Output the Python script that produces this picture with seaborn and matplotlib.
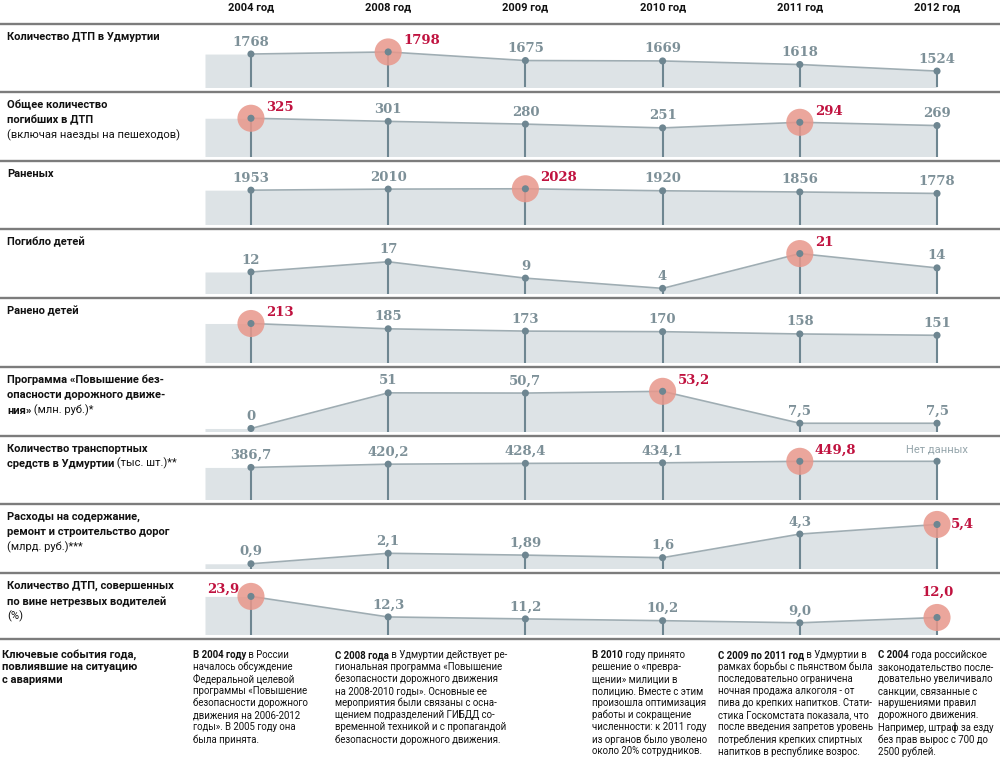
import matplotlib
matplotlib.use('Agg')
import matplotlib.pyplot as plt
import seaborn as sns
import numpy as np
import pandas as pd
from matplotlib.transforms import blended_transform_factory
from matplotlib.lines import Line2D

sns.set_style('white')
SANS = ['Roboto', 'DejaVu Sans']
SERIF = ['DejaVu Serif']
plt.rcParams['font.family'] = SANS

W, H = 1000, 771

# --- data -------------------------------------------------------------
years = ['2004 год', '2008 год', '2009 год', '2010 год', '2011 год', '2012 год']

dtp_total = [1768, 1798, 1675, 1669, 1618, 1524]
killed = [325, 301, 280, 251, 294, 269]
injured = [1953, 2010, 2028, 1920, 1856, 1778]
children_killed = [12, 17, 9, 4, 21, 14]
children_injured = [213, 185, 173, 170, 158, 151]
program_budget = [0, 51, 50.7, 53.2, 7.5, 7.5]
vehicles = [386.7, 420.2, 428.4, 434.1, 449.8, np.nan]
road_spending = [0.9, 2.1, 1.89, 1.6, 4.3, 5.4]
drunk_share = [23.9, 12.3, 11.2, 10.2, 9.0, 12.0]

row_titles = [
    [[('Количество ДТП в Удмуртии', True)]],
    [[('Общее количество', True)], [('погибших в ДТП', True)],
     [('(включая наезды на пешеходов)', False)]],
    [[('Раненых', True)]],
    [[('Погибло детей', True)]],
    [[('Ранено детей', True)]],
    [[('Программа «Повышение без-', True)], [('опасности дорожного движе-', True)],
     [('ния»', True), (' (млн. руб.)*', False)]],
    [[('Количество транспортных', True)],
     [('средств в Удмуртии', True), (' (тыс. шт.)**', False)]],
    [[('Расходы на содержание,', True)], [('ремонт и строительство дорог', True)],
     [('(млрд. руб.)***', False)]],
    [[('Количество ДТП, совершенных', True)], [('по вине нетрезвых водителей', True)],
     [('(%)', False)]],
]

events_title = ['Ключевые события года,', 'повлиявшие на ситуацию', 'с авариями']

events = [
    ('В 2004 году', ' в России', [
        'началось обсуждение', 'Федеральной целевой', 'программы «Повышение',
        'безопасности дорожного', 'движения на 2006-2012', 'годы». В 2005 году она',
        'была принята.']),
    ('С 2008 года', ' в Удмуртии действует ре-', [
        'гиональная программа «Повышение', 'безопасности дорожного движения',
        'на 2008-2010 годы». Основные ее', 'мероприятия были связаны с осна-',
        'щением подразделений ГИБДД со-', 'временной техникой и с пропагандой',
        'безопасности дорожного движения.']),
    ('В 2010', ' году принято', [
        'решение о «превра-', 'щении» милиции в', 'полицию. Вместе с этим',
        'произошла оптимизация', 'работы и сокращение', 'численности: к 2011 году',
        'из органов было уволено', 'около 20% сотрудников.']),
    ('С 2009 по 2011 год', ' в Удмуртии в', [
        'рамках борьбы с пьянством была', 'последовательно ограничена',
        'ночная продажа алкоголя - от', 'пива до крепких напитков. Стати-',
        'стика Госкомстата показала, что', 'после введения запретов уровень',
        'потребления крепких спиртных', 'напитков в республике возрос.']),
    ('С 2004', ' года российское', [
        'законодательство после-', 'довательно увеличивало', 'санкции, связанные с',
        'нарушениями правил', 'дорожного движения.', 'Например, штраф за езду',
        'без прав вырос с 700 до', '2500 рублей.']),
]

# --- layout / style ---------------------------------------------------
rows = [
    dict(vals=dtp_total, fmt='{:d}', hl={1: 'r'}, ylim=(1289, 2198)),
    dict(vals=killed, fmt='{:d}', hl={0: 'r', 4: 'r'}, ylim=(32, 526)),
    dict(vals=injured, fmt='{:d}', hl={2: 'r'}, ylim=(113, 3517)),
    dict(vals=children_killed, fmt='{:d}', hl={4: 'r'}, ylim=(1.5, 33)),
    dict(vals=children_injured, fmt='{:d}', hl={0: 'r'}, ylim=(8, 347)),
    dict(vals=program_budget, fmt='{:g}', hl={3: 'r'}, ylim=(-4.3, 88)),
    dict(vals=vehicles, fmt='{:.1f}', hl={4: 'r'}, ylim=(57, 710)),
    dict(vals=road_spending, fmt='{:g}', hl={5: 'e'}, ylim=(0.36, 7.74)),
    dict(vals=drunk_share, fmt='{:.1f}', hl={0: 'l', 5: 'c'}, ylim=(2.4, 37.1)),
]
seps = [24, 92, 161, 229, 298, 367, 436, 504, 573, 639]

FILL = '#dde3e6'
LINE = '#9fadb3'
DOT = '#6e8691'
GREY_TXT = '#7d9098'
RED_TXT = '#c0123f'
CIRCLE = '#e8978b'

red_pos = {'r': ((15, 11), 'left'), 'l': ((-12, 7), 'right'),
           'c': ((0, 25), 'center'), 'e': ((14, 0), 'left')}

X0, X1 = -0.335, 5.459
AX_L = 205


def fx(p):
    return p / W


def fy(p):
    return 1 - p / H


fig = plt.figure(figsize=(W / 100, H / 100), dpi=100)
bg = fig.add_axes([0, 0, 1, 1])
bg.set_axis_off()
bg.set_xlim(0, 1)
bg.set_ylim(0, 1)


def rich_line(x, y, parts, size):
    prev = None
    for txt, bold in parts:
        kw = dict(fontsize=size, fontweight='bold' if bold else 'normal',
                  color='#111111', family=SANS)
        if prev is None:
            prev = bg.annotate(txt, xy=(fx(x), fy(y)), xycoords='axes fraction',
                               ha='left', va='center', **kw)
        else:
            prev = bg.annotate(txt, xy=(1, 0), xycoords=prev,
                               ha='left', va='bottom', **kw)


xs = np.arange(len(years))
axes = []
for i, row in enumerate(rows):
    top = seps[i]
    bottom = seps[i + 1] - 4.5
    ax = fig.add_axes([fx(AX_L), fy(bottom), (W - AX_L) / W, (bottom - top) / H])
    ax.set_axis_off()
    axes.append(ax)
    lo, hi = row['ylim']
    vals = pd.Series(row['vals'], dtype=float)
    plot_vals = vals.ffill()

    fill_x = np.concatenate([[X0], xs])
    fill_y = np.concatenate([[plot_vals.iloc[0]], plot_vals.values])
    ax.fill_between(fill_x, fill_y, lo, color=FILL, lw=0, zorder=1)
    ax.vlines(xs, lo, plot_vals.values, color=DOT, lw=1.5, zorder=2)
    sns.lineplot(x=xs, y=plot_vals.values, ax=ax, color=LINE, lw=1.2, zorder=3)

    hl_idx = list(row['hl'].keys())
    sns.scatterplot(x=xs[hl_idx], y=plot_vals.values[hl_idx], ax=ax, s=380,
                    color=CIRCLE, alpha=0.85, edgecolor='none', zorder=4)
    sns.scatterplot(x=xs, y=plot_vals.values, ax=ax, s=26, color=DOT,
                    edgecolor='none', zorder=5)

    for j in xs:
        v = vals.iloc[j]
        if np.isnan(v):
            ax.annotate('Нет данных', (j, plot_vals.iloc[j]), xytext=(0, 12),
                        textcoords='offset pixels', ha='center', va='center',
                        fontsize=8, color='#95a5ab', family=SANS)
            continue
        txt = (row['fmt'].format(int(v)) if row['fmt'] == '{:d}'
               else row['fmt'].format(v)).replace('.', ',')
        if j in row['hl']:
            off, ha = red_pos[row['hl'][j]]
            ax.annotate(txt, (j, v), xytext=off, textcoords='offset pixels',
                        ha=ha, va='center', fontsize=9.5, fontweight='bold',
                        color=RED_TXT, family=SERIF, zorder=6)
        else:
            ax.annotate(txt, (j, v), xytext=(0, 12), textcoords='offset pixels',
                        ha='center', va='center', fontsize=9.5, fontweight='bold',
                        color=GREY_TXT, family=SERIF, zorder=6)
    ax.set_xlim(X0, X1)
    ax.set_ylim(lo, hi)

    for k, line in enumerate(row_titles[i]):
        rich_line(7, top + 13 + k * 15.3, line, 8)

# header with years
hdr = blended_transform_factory(axes[0].transData, fig.transFigure)
for j, y in enumerate(years):
    fig.text(j, fy(7), y, transform=hdr, ha='center', va='center',
             fontsize=8, fontweight='bold', color='#111111', family=SANS)

# separators
for s in seps:
    bg.add_line(Line2D([0, 1], [fy(s), fy(s)], color='#7c7c7c', lw=1.7))

# key events
for k, line in enumerate(events_title):
    rich_line(2, 655 + k * 12.3, [(line, True)], 8)

col_x = [193, 335, 592, 718, 878]
for cx, (bold, rest, lines) in zip(col_x, events):
    rich_line(cx, 655, [(bold, True), (rest, False)], 6.9)
    for k, line in enumerate(lines):
        rich_line(cx, 655 + (k + 1) * 12.05, [(line, False)], 6.9)

fig.savefig('out.png', dpi=100)
